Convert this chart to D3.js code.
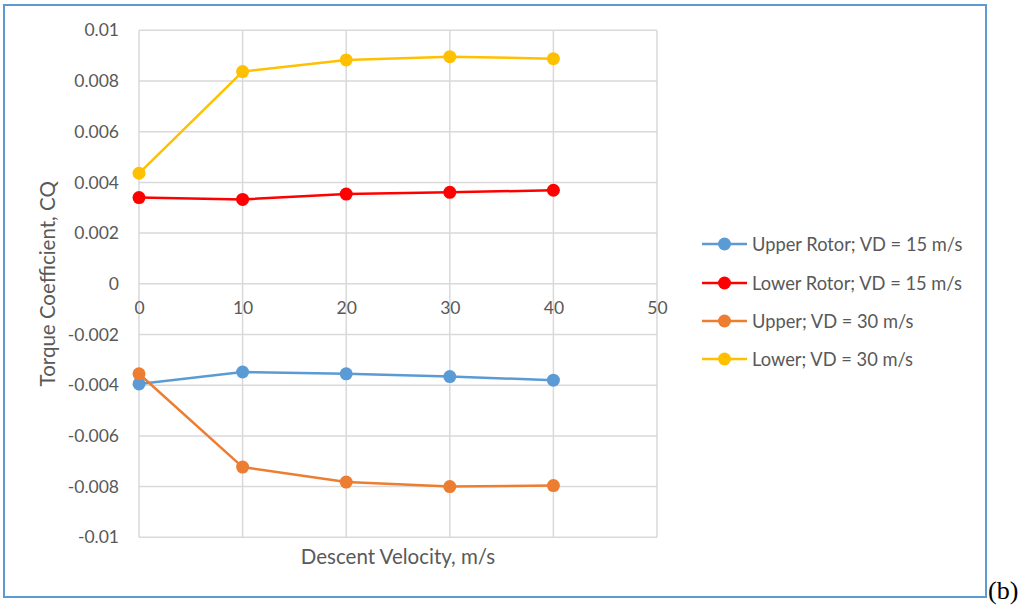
<!DOCTYPE html>
<html>
<head>
<meta charset="utf-8">
<script src="https://cdn.jsdelivr.net/npm/d3@7"></script>
<style>
  html, body { margin: 0; padding: 0; background: #fff; }
  svg text { font-family: Lato, "Open Sans", sans-serif; fill: #595959; }
</style>
</head>
<body>
<svg id="chart" width="1027" height="607"></svg>
<script>
// Descent velocity (m/s) sample points
const velocities = [0, 10, 20, 30, 40];

// Torque coefficient per rotor / descent case
const upperRotor15 = [-0.00395, -0.00348, -0.00355, -0.00366, -0.0038];
const lowerRotor15 = [0.0034, 0.00333, 0.00354, 0.00361, 0.00369];
const upper30 = [-0.00355, -0.00723, -0.00782, -0.008, -0.00796];
const lower30 = [0.00436, 0.00837, 0.00883, 0.00896, 0.00888];

const seriesNames = ["Upper Rotor; VD = 15 m/s", "Lower Rotor; VD = 15 m/s", "Upper; VD = 30 m/s", "Lower; VD = 30 m/s"];
const seriesColors = ["#5b9bd5", "#ff0000", "#ed7d31", "#ffc000"];
const seriesValues = [upperRotor15, lowerRotor15, upper30, lower30];

const xTicks = [0, 10, 20, 30, 40, 50];
const yTicks = [-0.01, -0.008, -0.006, -0.004, -0.002, 0, 0.002, 0.004, 0.006, 0.008, 0.01];
const yTickLabels = ["-0.01", "-0.008", "-0.006", "-0.004", "-0.002", "0", "0.002", "0.004", "0.006", "0.008", "0.01"];

const svg = d3.select("#chart");

// Outer frame and panel tag
svg.append("rect")
  .attr("x", 4).attr("y", 5).attr("width", 982).attr("height", 592)
  .attr("fill", "none").attr("stroke", "#5b9bd5").attr("stroke-width", 2);
svg.append("text")
  .attr("x", 988).attr("y", 599)
  .style("font-family", "'Liberation Serif', 'Times New Roman', serif")
  .style("font-size", "26px").style("fill", "#000")
  .text("(b)");

const x = d3.scaleLinear().domain([0, 50]).range([139, 657]);
const y = d3.scaleLinear().domain([-0.01, 0.01]).range([537.3, 30.3]);

// Gridlines
const grid = svg.append("g").attr("stroke", "#d9d9d9").attr("stroke-width", 1.5);
grid.selectAll("line.h").data(yTicks).join("line")
  .attr("x1", x(0)).attr("x2", x(50))
  .attr("y1", d => y(d)).attr("y2", d => y(d));
grid.selectAll("line.v").data(xTicks).join("line")
  .attr("x1", d => x(d)).attr("x2", d => x(d))
  .attr("y1", y(0.01)).attr("y2", y(-0.01));

// Y axis labels
const yAxis = d3.axisLeft(y).tickValues(yTicks)
  .tickFormat((d, i) => yTickLabels[i]).tickSize(0).tickPadding(20);
const yg = svg.append("g").attr("transform", `translate(${x(0)},0)`).call(yAxis);
yg.select(".domain").remove();
yg.selectAll("text").style("font-size", "17.5px").style("fill", "#595959")
  .style("font-family", "Lato, 'Open Sans', sans-serif");

// X axis labels sit below the zero line
const xAxis = d3.axisBottom(x).tickValues(xTicks).tickFormat(d3.format("d")).tickSize(0).tickPadding(18);
const xg = svg.append("g").attr("transform", `translate(0,${y(0)})`).call(xAxis);
xg.select(".domain").remove();
xg.selectAll("text").style("font-size", "17.5px").style("fill", "#595959")
  .style("font-family", "Lato, 'Open Sans', sans-serif");

// Axis titles
svg.append("text")
  .attr("x", 398).attr("y", 564).attr("text-anchor", "middle")
  .style("font-size", "20.5px")
  .text("Descent Velocity, m/s");
svg.append("text")
  .attr("transform", `translate(55,${y(0)}) rotate(-90)`)
  .attr("text-anchor", "middle")
  .style("font-size", "20.5px")
  .text("Torque Coefficient, CQ");

// Series lines and markers
const line = d3.line().x((d, i) => x(velocities[i])).y(d => y(d));
seriesValues.forEach((vals, s) => {
  const g = svg.append("g");
  g.append("path").datum(vals).attr("d", line)
    .attr("fill", "none").attr("stroke", seriesColors[s]).attr("stroke-width", 2.5);
  g.selectAll("circle").data(vals).join("circle")
    .attr("cx", (d, i) => x(velocities[i])).attr("cy", d => y(d))
    .attr("r", 6.5).attr("fill", seriesColors[s]);
});

// Legend
const legendY = [244, 283, 321, 359];
const lg = svg.append("g");
seriesNames.forEach((name, s) => {
  const row = lg.append("g").attr("transform", `translate(0,${legendY[s]})`);
  row.append("line").attr("x1", 702).attr("x2", 747).attr("y1", 0).attr("y2", 0)
    .attr("stroke", seriesColors[s]).attr("stroke-width", 2.5);
  row.append("circle").attr("cx", 724.5).attr("cy", 0).attr("r", 6.5).attr("fill", seriesColors[s]);
  row.append("text").attr("x", 752).attr("y", 6.5).style("font-size", "18.3px").text(name);
});
</script>
</body>
</html>
